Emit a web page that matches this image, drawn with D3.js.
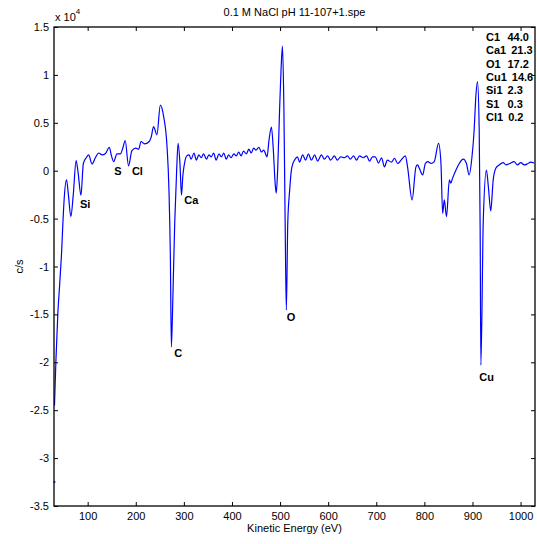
<!DOCTYPE html>
<html>
<head>
<meta charset="utf-8">
<script src="https://cdn.jsdelivr.net/npm/d3@7"></script>
<style>
body { margin: 0; background: #fff; }
text { font-family: Arial, "Liberation Sans", sans-serif; }
</style>
</head>
<body>
<svg width="537" height="544"></svg>
<script>
// spectrum: kinetic energy (eV) and c/s
var energy = [30, 31, 34, 38, 42, 46, 48, 51, 56, 60, 65, 70, 76, 80, 86, 91, 97, 102, 109, 116,
  123, 130, 137, 145, 149, 154, 161, 168, 173, 178, 185, 192, 200, 206, 211, 218, 228, 232, 237, 244,
  251, 258, 265, 269, 272, 274, 277, 281, 285, 288, 292, 295, 298, 302, 306, 311, 315, 321, 326, 331,
  336, 341, 347, 352, 357, 362, 367, 373, 378, 383, 388, 393, 398, 404, 409, 414, 419, 424, 430, 435,
  440, 445, 450, 456, 461, 466, 473, 477, 482, 486, 490, 492, 495, 499, 502, 505, 508, 510.5, 513, 516,
  520, 523, 527, 530, 536, 540.5, 547, 553, 559, 565, 572, 578, 586, 592, 599, 605, 613, 619, 626, 634,
  640, 646, 653, 659, 665, 673, 680, 686, 692, 698, 704.5, 711, 717, 723, 731.5, 738, 744.5, 751.5, 760.5, 765,
  774.5, 782.5, 786, 789.5, 796.5, 802, 807, 814, 820.5, 829.5, 834.5, 838, 841.5, 846, 852, 855, 858.5, 865.5, 872.5, 881,
  887.5, 893, 899, 903.5, 907, 910.5, 914, 916, 917.5, 922.5, 929, 933, 938, 943, 948.5, 955.5, 964, 969.5, 977.5, 986.5,
  993.5, 1000.5, 1007.5, 1014, 1021, 1028]
var counts = [-32500, -24500, -19800, -14900, -11700, -8300, -6000, -3050, -950, -2550, -4800, -2550, 1050, -150, -2550, 750, 1350, 1650, 700, 1350,
  1850, 1650, 1800, 2450, 1650, 950, 1750, 1750, 2350, 3150, 500, 2100, 2350, 2250, 3050, 2800, 3050, 3500, 4600, 3750,
  6850, 5650, 2500, -2000, -9300, -18400, -13500, -5450, 50, 2850, 600, -2550, -450, 950, 1550, 1650, 1200, 1850, 1100, 1650,
  1350, 1750, 1200, 1650, 1450, 1850, 1100, 1750, 1450, 1850, 1200, 1650, 1350, 1750, 1550, 1950, 1550, 2050, 1750, 2250,
  1850, 2350, 2150, 2450, 1950, 2150, 1450, 3200, 4550, 2150, -1500, -2350, 100, 6350, 10500, 13000, 6350, -5150, -14550, -5450,
  -2000, -150, 800, 1100, 1450, 900, 1650, 1100, 1750, 1100, 1650, 1000, 1650, 1200, 1550, 1100, 1550, 1100, 1450, 1350,
  1550, 1200, 1550, 1100, 1550, 1350, 1550, 1000, 1450, 1450, 800, 1350, 400, 1100, 900, 1300, 750, 1100, 1550, 400,
  -3050, 400, 600, 250, -450, 750, 950, 750, 950, 2850, 750, -4450, -3050, -4800, -950, -1300, -800, 50, 750, 1200,
  750, -450, 1450, 4250, 7750, 9300, 4250, -6200, -20300, -5150, 50, -1650, -4200, -1000, 250, 600, 850, 600, 750, 950,
  600, 850, 600, 700, 900, 800]

var xTicks = [100, 200, 300, 400, 500, 600, 700, 800, 900, 1000]
var yTicks = [-35000, -30000, -25000, -20000, -15000, -10000, -5000, 0, 5000, 10000, 15000]

var elements = ['C1', 'Ca1', 'O1', 'Cu1', 'Si1', 'S1', 'Cl1']
var percents = ['44.0', '21.3', '17.2', '14.6', '2.3', '0.3', '0.2']

var peakNames = ['Si', 'S', 'Cl', 'Ca', 'C', 'O', 'Cu']
var peakEnergy = [84, 155, 192, 301, 280, 514, 914]
var peakCounts = [-3900, -450, -450, -3500, -19450, -15700, -21950]

var svg = d3.select('svg')
var margin = {top: 27, right: 2, bottom: 38, left: 54}
var width = 537 - margin.left - margin.right
var height = 544 - margin.top - margin.bottom

var x = d3.scaleLinear().domain([30, 1030]).range([0, width])
var y = d3.scaleLinear().domain([-35000, 15000]).range([height, 0])

var g = svg.append('g').attr('transform', `translate(${margin.left},${margin.top})`)

g.append('clipPath').attr('id', 'clip')
  .append('rect').attr('x', 0).attr('y', -1).attr('width', width + 1).attr('height', height + 2)

var pts = energy.map((e, i) => [e, counts[i]])

var line = d3.line()
  .x(d => x(d[0]))
  .y(d => y(d[1]))
  .curve(d3.curveMonotoneX)

// first sample is an isolated dot in the original
g.append('circle')
  .attr('cx', x(pts[0][0]) + 0.5)
  .attr('cy', y(pts[0][1]))
  .attr('r', 1)
  .attr('fill', '#0000ff')

g.append('path')
  .datum(pts.slice(1))
  .attr('clip-path', 'url(#clip)')
  .attr('fill', 'none')
  .attr('stroke', '#0000ff')
  .attr('stroke-width', 1.2)
  .attr('d', line)

var tickLen = 4
var fmtY = v => String(v / 10000)

var styleAxis = sel => {
  sel.select('.domain').remove()
  sel.selectAll('line').attr('stroke', '#000')
  sel.selectAll('text').attr('fill', '#000').style('font-size', '11px')
}

g.append('g')
  .attr('transform', `translate(0,${height})`)
  .call(d3.axisBottom(x).tickValues(xTicks).tickSize(-tickLen).tickPadding(6).tickFormat(d3.format('d')))
  .call(styleAxis)

g.append('g')
  .call(d3.axisTop(x).tickValues(xTicks).tickSize(-tickLen).tickFormat(''))
  .call(styleAxis)

g.append('g')
  .call(d3.axisLeft(y).tickValues(yTicks).tickSize(-tickLen).tickPadding(5).tickFormat(fmtY))
  .call(styleAxis)

g.append('g')
  .attr('transform', `translate(${width},0)`)
  .call(d3.axisRight(y).tickValues(yTicks).tickSize(-tickLen).tickFormat(''))
  .call(styleAxis)

g.append('rect')
  .attr('width', width)
  .attr('height', height)
  .attr('fill', 'none')
  .attr('stroke', '#000')
  .attr('stroke-width', 1.3)

// peak labels
g.selectAll('.peak').data(peakNames).enter().append('text')
  .attr('class', 'peak')
  .attr('x', (d, i) => x(peakEnergy[i]))
  .attr('y', (d, i) => y(peakCounts[i]))
  .style('font-size', '11px')
  .style('font-weight', 'bold')
  .text(d => d)

// composition list: name, then value placed just after it (min column)
var listX = width - 49
var rows = g.selectAll('.comp').data(elements).enter().append('g')
  .attr('class', 'comp')
  .attr('transform', (d, i) => `translate(${listX},${14 + i * 13.3})`)
  .style('font-size', '11px')
  .style('font-weight', 'bold')
rows.append('text').attr('class', 'name').text(d => d)
rows.append('text')
  .attr('x', function(d) {
    var w = this.parentNode.querySelector('.name').getComputedTextLength()
    return Math.max(w + 5, 21.5)
  })
  .text((d, i) => percents[i])

// titles
svg.append('text')
  .attr('x', margin.left + width / 2)
  .attr('y', 16)
  .attr('text-anchor', 'middle')
  .style('font-size', '11px')
  .text('0.1 M NaCl pH 11-107+1.spe')

var exp = svg.append('text')
  .attr('x', margin.left + 1)
  .attr('y', 21)
  .style('font-size', '11px')
exp.append('tspan').text('x 10')
exp.append('tspan').attr('dy', -7).style('font-size', '8px').text('4')

svg.append('text')
  .attr('x', margin.left + width / 2)
  .attr('y', 532)
  .attr('text-anchor', 'middle')
  .style('font-size', '11px')
  .text('Kinetic Energy (eV)')

svg.append('text')
  .attr('transform', `translate(23,${margin.top + height / 2}) rotate(-90)`)
  .attr('text-anchor', 'middle')
  .style('font-size', '11px')
  .text('c/s')
</script>
</body>
</html>
